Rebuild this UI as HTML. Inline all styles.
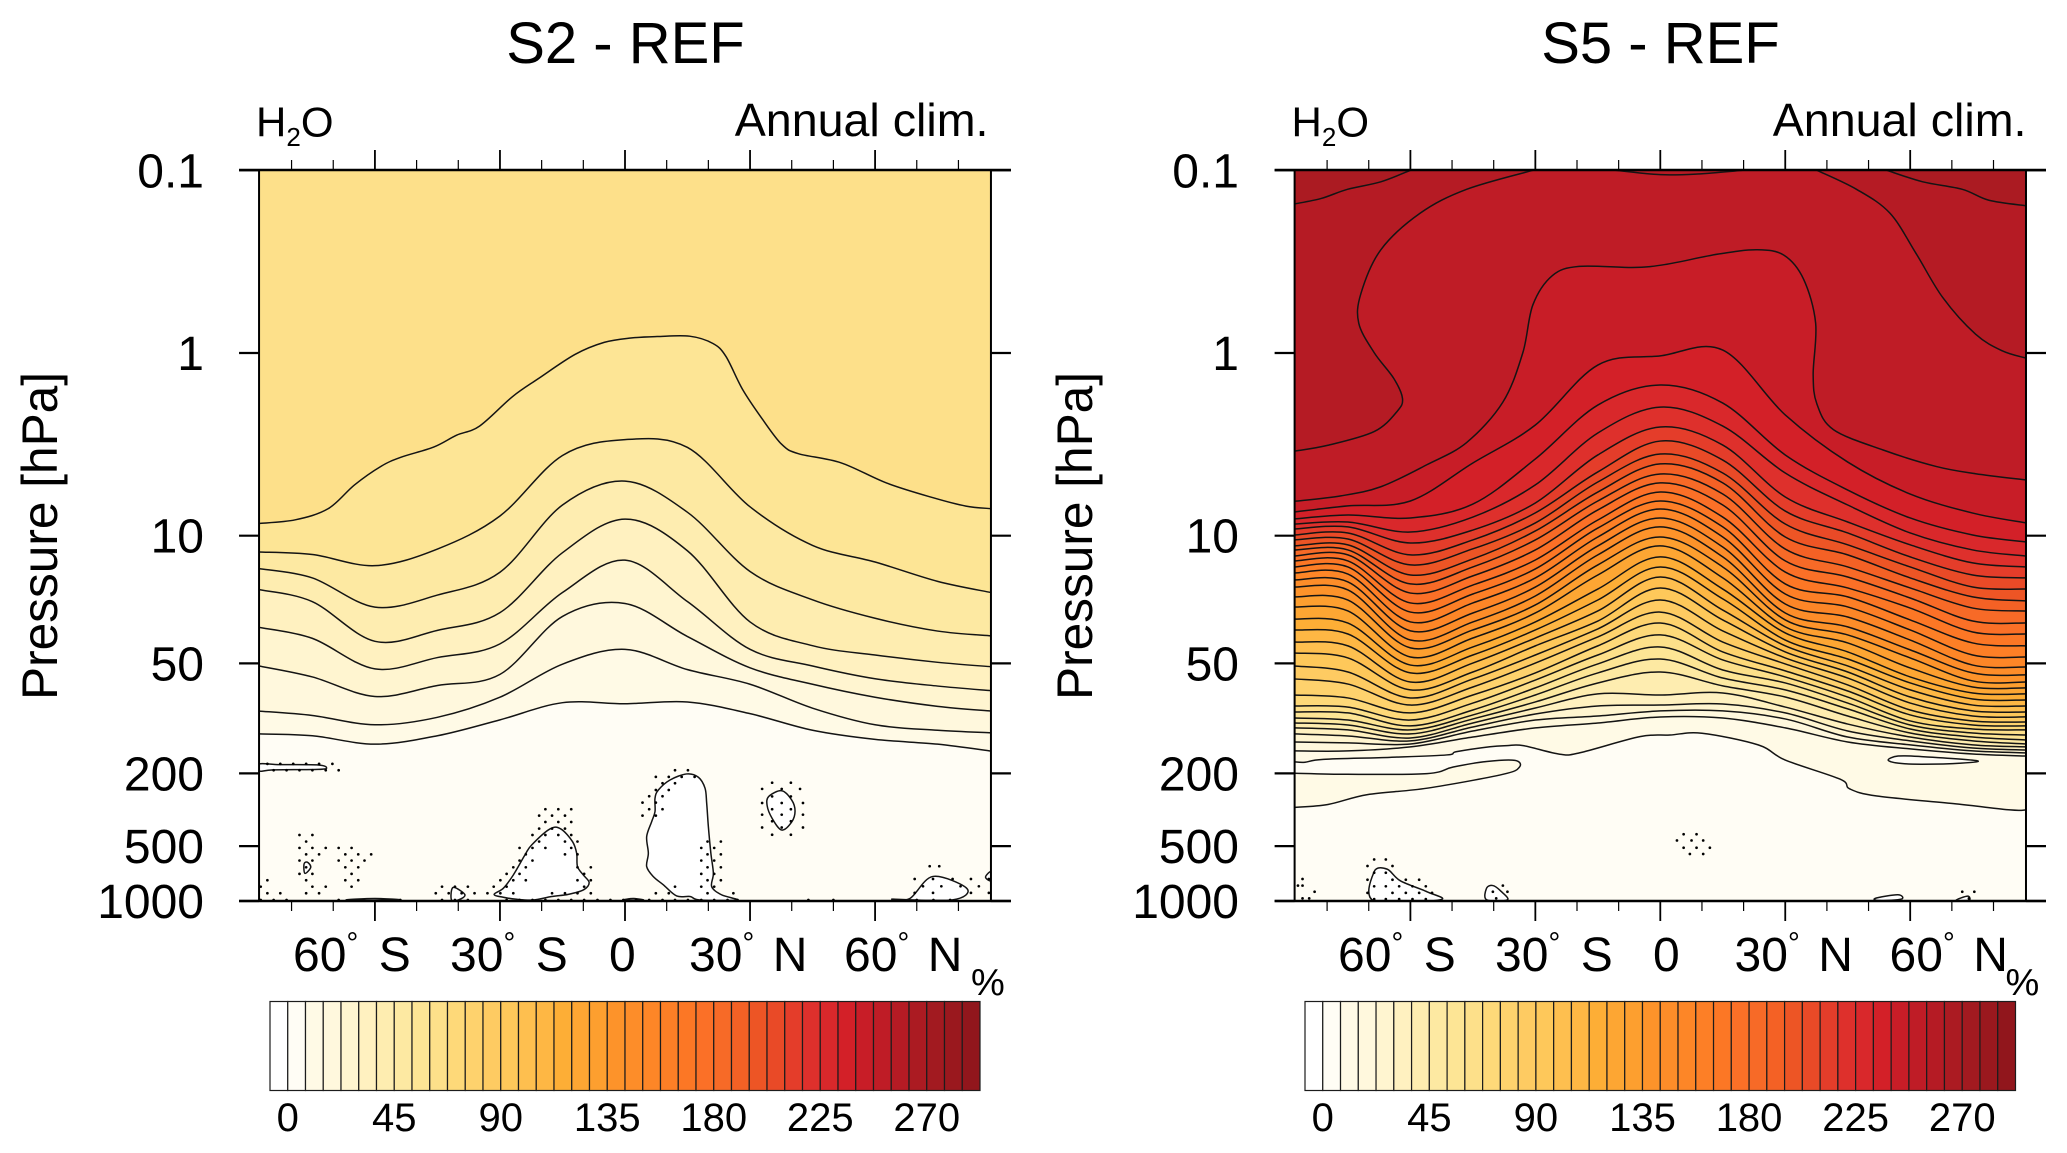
<!DOCTYPE html>
<html lang="en">
<head>
<meta charset="utf-8">
<title>S2 - REF and S5 - REF H2O annual climatology</title>
<style>
html,body{margin:0;padding:0;background:#fff;}
svg{display:block;}
text{font-family:"Liberation Sans",sans-serif;fill:#000;}
</style>
</head>
<body>
<svg id="figure" xmlns="http://www.w3.org/2000/svg" width="2067" height="1153" viewBox="0 0 2067 1153">
  <defs>
    <clipPath id="clip-s2"><rect x="259" y="170" width="732" height="731"/></clipPath>
    <clipPath id="clip-s5"><rect x="1294.3" y="170" width="731.5" height="731"/></clipPath>
  </defs>
  <rect width="2067" height="1153" fill="#fff"/>
  <g id="panel-s2"></g>
  <g id="panel-s5"></g>

  <text x="625.5" y="63" font-size="58" text-anchor="middle">S2 - REF</text>
  <text x="1660.5" y="63" font-size="58" text-anchor="middle">S5 - REF</text>

  <text x="256" y="136.5" font-size="42">H<tspan font-size="26" dy="9.5">2</tspan><tspan dy="-9.5">O</tspan></text>
  <text x="1291.5" y="136.5" font-size="42">H<tspan font-size="26" dy="9.5">2</tspan><tspan dy="-9.5">O</tspan></text>
  <text x="988.5" y="136" font-size="46.6" text-anchor="end">Annual clim.</text>
  <text x="2026.5" y="136" font-size="46.6" text-anchor="end">Annual clim.</text>

  <text transform="translate(57,536) rotate(-90)" font-size="49.6" text-anchor="middle">Pressure [hPa]</text>
  <text transform="translate(1092,536) rotate(-90)" font-size="49.6" text-anchor="middle">Pressure [hPa]</text>

  <g font-size="48">
    <text x="293" y="971">60<tspan font-size="30" dy="-18">°</tspan><tspan dy="18" dx="7"> S</tspan></text>
    <text x="450" y="971">30<tspan font-size="30" dy="-18">°</tspan><tspan dy="18" dx="7"> S</tspan></text>
    <text x="609" y="971">0</text>
    <text x="689" y="971">30<tspan font-size="30" dy="-18">°</tspan><tspan dy="18" dx="5"> N</tspan></text>
    <text x="844" y="971">60<tspan font-size="30" dy="-18">°</tspan><tspan dy="18" dx="5"> N</tspan></text>
  </g>
  <g font-size="48">
    <text x="1338" y="971">60<tspan font-size="30" dy="-18">°</tspan><tspan dy="18" dx="7"> S</tspan></text>
    <text x="1495" y="971">30<tspan font-size="30" dy="-18">°</tspan><tspan dy="18" dx="7"> S</tspan></text>
    <text x="1653" y="971">0</text>
    <text x="1734.5" y="971">30<tspan font-size="30" dy="-18">°</tspan><tspan dy="18" dx="5"> N</tspan></text>
    <text x="1889.5" y="971">60<tspan font-size="30" dy="-18">°</tspan><tspan dy="18" dx="5"> N</tspan></text>
  </g>
  <text x="971" y="995" font-size="38">%</text>
  <text x="2005.5" y="995" font-size="38">%</text>
</svg>

<script>
// ---------- shared axis values ----------
const pressureTicks = [0.1, 1, 10, 50, 200, 500, 1000];
const latMajorTicks = [-60, -30, 0, 30, 60];
const latMinorTicks = [-80, -70, -50, -40, -20, -10, 10, 20, 40, 50, 70, 80];
const colorbarLabels = [0, 45, 90, 135, 180, 225, 270];
const colorbarStep = 7.5;
const boxColors = ['#ffffff','#fffdf5','#fffae6','#fff8dd','#fff5d0','#fff1c0','#feedb0','#fde9a2','#fde595','#fde08a',
  '#fed979','#fed26d','#fecb62','#fec85a','#febf4f','#feb744','#fdae36','#fda633','#fd9f2f','#fd932a',
  '#fd8d29','#fd8627','#fd7f26','#fc7725','#fb7027','#f76a27','#f46125','#ed5525','#e94a27','#e43d2a',
  '#de302c','#d9282b','#d32028','#c81d27','#bf1c26','#b51b24','#ab1b22','#a21a20','#9a181e','#91161c'];
// shared latitude grid of the contour rows (degrees)
const gridLat = [-87.8,-75,-60,-45,-30,-15,0,15,30,45,60,75,87.8];

// ---------- S2 contours: log10(hPa) per gridLat, levels 1..7 ----------
const s2Grid = [
 [2.085,2.095,2.141,2.095,2.008,1.914,1.920,1.910,1.974,2.065,2.115,2.141,2.179],
 [1.960,1.984,2.035,1.994,1.884,1.703,1.622,1.733,1.813,1.944,2.035,2.065,2.079],
 [1.713,1.773,1.880,1.820,1.759,1.442,1.371,1.552,1.723,1.813,1.884,1.934,1.960],
 [1.502,1.562,1.729,1.667,1.592,1.311,1.134,1.361,1.622,1.713,1.783,1.823,1.848],
 [1.295,1.361,1.578,1.518,1.421,1.093,0.909,1.083,1.472,1.602,1.653,1.693,1.717],
 [1.180,1.231,1.391,1.325,1.200,0.832,0.701,0.872,1.196,1.351,1.452,1.522,1.548],
 [1.089,1.103,1.164,1.073,0.892,0.561,0.474,0.517,0.842,1.053,1.144,1.250,1.311]
];
// S2 level 8 (top contour)
const s2TopLat = [-87.8,-79.1,-71.2,-64.9,-58.6,-53.8,-45.9,-40.4,-34.9,-27,-20.7,-12,-5,1.4,7.7,15.5,21.1,24.2,28.2,32.9,37.6,41.6,51.8,62.8,73.9,81.8,87.8];
const s2TopLogP = [0.933,0.913,0.852,0.722,0.621,0.571,0.515,0.450,0.400,0.239,0.139,0.008,-0.058,-0.082,-0.090,-0.092,-0.052,0.018,0.199,0.360,0.500,0.551,0.601,0.712,0.792,0.838,0.852];

// S2 closed low-value regions
const s2Hump1Lat = [-31.4,-29.2,-26.8,-24,-22.4,-18,-15.4,-12.6,-11.6,-11.4,-10,-8.6,-10,-13.6,-17.6,-22,-26,-29.2];
const s2Hump1LogP = [2.963,2.930,2.857,2.747,2.693,2.605,2.605,2.674,2.738,2.811,2.857,2.899,2.939,2.963,2.975,2.994,2.990,2.979];
const s2Hump2Lat = [7.2,8,10.8,14.8,17.6,19.2,19.6,20,20.6,21.2,20.8,23.2,26.8,18,15.6,12.4,9.2,6.8,5.2,5.6,5.2,6.4,7.2];
const s2Hump2LogP = [2.437,2.392,2.337,2.304,2.322,2.382,2.465,2.592,2.738,2.848,2.921,2.966,2.994,2.994,2.975,2.972,2.911,2.866,2.811,2.738,2.647,2.565,2.510];
const s2BlobLat = [34.5,37.6,40,40.8,40,37.6,35.3,34.1];
const s2BlobLogP = [2.427,2.396,2.447,2.507,2.567,2.611,2.547,2.477];
const s2SliverLat = [-87.8,-82.8,-73.6,-71.6,-73.6,-84.4,-87.8];
const s2SliverLogP = [2.249,2.253,2.255,2.271,2.279,2.282,2.288];
const s2DiamondLat = [-76.2,-75.4,-76.8,-77];
const s2DiamondLogP = [2.787,2.815,2.848,2.797];
const s2PatchALat = [-41.6,-41.6,-40.8,-38.4,-40];
const s2PatchALogP = [2.994,2.939,2.926,2.966,2.994];
const s2PatchBLat = [64.4,68.4,73.9,82.1,78.6];
const s2PatchBLogP = [2.989,2.985,2.865,2.933,2.993];
const s2PatchCLat = [86.5,87.8,87.8];
const s2PatchCLogP = [2.869,2.838,2.889];
const s2PatchDLat = [-66.8,-60,-54];
const s2PatchDLogP = [2.994,2.986,2.994];
const s2PatchELat = [-0.4,2,4.4];
const s2PatchELogP = [2.994,2.986,2.994];

// S2 significance stipple
const s2DotLogP = [2.249,2.284,2.320,2.352,2.355,2.386,2.392,2.426,2.427,2.461,2.463,2.497,2.527,2.532,2.563,2.567,2.597,2.603,2.637,2.638,2.674,2.709,2.744,2.778,2.809,2.815,2.851,2.879,2.886,2.919,2.921,2.955,2.957,2.994];
const s2DotLat = [
 [-85.8,-82.7,-79.6,-76.5,-73.4,-70.2],
 [-84.3,-81.2,-78.1,-75,-71.8,-68.7,12,15.1],
 [7.4,10.5,13.6,16.7],
 [35.3,39.8],
 [9,12],
 [32.9,37.6,42],
 [7.4,10.5],
 [5.8,9],
 [35.3,39.8],
 [4.2,7.4],
 [32.9,37.6,42.7],
 [-19.1,-16,-12.9,5.8,9,35.3,39.8],
 [32.9,37.6,42.7],
 [-20.6,-17.5,-14.4,4.2,7.4],
 [35.3,39.8],
 [-19.1,-16,-12.9],
 [32.9,37.6,42.7],
 [-20.6,-17.5,-14.4],
 [35.3,39.8],
 [-78.1,-75,-22.2,-19.1,-16,-12.9],
 [-76.5,-20.6,-14.4,-11.4,19.8,23],
 [-78.1,-75,-71.8,-68.7,-65.6,-25.3,-22.2,-19.1,-12.9,18.3,21.4],
 [-76.5,-73.4,-67.1,-64,-60.9,-23.8,-14.4,-11.4,19.8,23],
 [-78.1,-75,-68.7,-65.6,-62.5,-25.3,-22.2,18.3,21.4],
 [73.1,75.4],
 [-76.5,-67.1,-64,-26.8,-23.8,-11.4,-8.2,19.8,23],
 [-78.1,-75,-65.6,-28.4,-25.3,-9.8,18.3,21.4],
 [69.5,73.9,78.6,83,87.3],
 [-85.8,-76.5,-67.1,-64,-29.9,-26.8,-23.8,-11.4,-8.2,19.8,23],
 [71.5,75.9,80.5,84.9],
 [-87.4,-75,-71.8,-65.6,-43.9,-40.8,-37.7,-31.5,-28.4,-9.8,12,18.3,21.4],
 [69.5,73.9,83,87.3],
 [-85.8,-82.7,-76.5,-73.4,-45.4,-42.3,-39.2,-36.1,-33,-29.9,-26.8,-17.5,-14.4,-11.4,-8.2,7.4,10.5,19.8,26],
 [-87.4,-84.3,-81.2,-68.7,-53.9,-43.9,-40.8,-37.7,-28.4,-25.3,-22.2,-19.1,-16,-12.9,-9.8,-6.6,-3.5,-0.4,2.7,5.8,9,12,15.1,18.3,21.4,24.6,27,44,50,70,74,78]
];

// ---------- S5 contours: log10(hPa) per gridLat, levels 2..32 ----------
const s5Grid = [
 [2.178,2.178,2.156,2.102,2.052,2.025,1.992,1.998,2.052,2.129,2.167,2.195,2.206],
 [2.129,2.134,2.140,2.069,2.009,1.987,1.959,1.959,2.003,2.102,2.145,2.178,2.189],
 [2.085,2.096,2.123,2.047,1.976,1.932,1.927,1.921,1.970,2.069,2.123,2.162,2.173],
 [2.052,2.063,2.107,2.025,1.943,1.866,1.872,1.861,1.938,2.031,2.102,2.145,2.156],
 [2.025,2.036,2.085,2.003,1.910,1.806,1.746,1.822,1.883,1.987,2.080,2.123,2.140],
 [1.998,2.009,2.063,1.981,1.872,1.751,1.675,1.779,1.844,1.948,2.058,2.102,2.118],
 [1.965,1.970,2.041,1.954,1.833,1.702,1.609,1.735,1.806,1.916,2.036,2.080,2.091],
 [1.932,1.938,2.009,1.916,1.790,1.653,1.543,1.680,1.773,1.883,2.014,2.058,2.063],
 [1.872,1.888,1.970,1.872,1.751,1.603,1.478,1.636,1.740,1.850,1.981,2.036,2.041],
 [1.784,1.812,1.927,1.828,1.697,1.554,1.418,1.582,1.702,1.817,1.954,2.014,2.020],
 [1.713,1.746,1.888,1.784,1.653,1.510,1.352,1.521,1.669,1.779,1.916,1.987,1.992],
 [1.642,1.669,1.844,1.746,1.603,1.467,1.286,1.461,1.636,1.746,1.883,1.959,1.965],
 [1.582,1.603,1.801,1.697,1.560,1.412,1.226,1.407,1.603,1.713,1.844,1.927,1.932],
 [1.516,1.538,1.751,1.653,1.516,1.352,1.171,1.346,1.571,1.675,1.806,1.894,1.899],
 [1.456,1.478,1.708,1.609,1.472,1.292,1.116,1.292,1.532,1.636,1.773,1.861,1.866],
 [1.390,1.412,1.664,1.560,1.423,1.215,1.056,1.231,1.499,1.587,1.724,1.828,1.833],
 [1.335,1.352,1.614,1.516,1.379,1.160,1.007,1.171,1.461,1.543,1.669,1.795,1.801],
 [1.281,1.297,1.571,1.472,1.330,1.105,0.952,1.116,1.423,1.499,1.625,1.751,1.762],
 [1.242,1.253,1.521,1.423,1.281,1.056,0.903,1.062,1.374,1.445,1.571,1.708,1.719],
 [1.204,1.210,1.472,1.368,1.231,1.007,0.854,1.007,1.319,1.390,1.516,1.653,1.664],
 [1.171,1.171,1.418,1.319,1.182,0.958,0.810,0.952,1.264,1.335,1.461,1.587,1.603],
 [1.138,1.138,1.368,1.270,1.133,0.914,0.761,0.898,1.199,1.286,1.396,1.527,1.538],
 [1.111,1.105,1.314,1.220,1.078,0.859,0.711,0.832,1.138,1.226,1.341,1.467,1.478],
 [1.078,1.078,1.264,1.171,1.023,0.810,0.662,0.772,1.073,1.171,1.286,1.396,1.412],
 [1.056,1.050,1.215,1.127,0.974,0.761,0.607,0.711,1.007,1.105,1.231,1.335,1.357],
 [1.023,1.018,1.160,1.072,0.930,0.706,0.553,0.657,0.936,1.050,1.171,1.281,1.292],
 [0.996,0.985,1.105,1.023,0.875,0.651,0.482,0.586,0.865,0.985,1.116,1.215,1.231],
 [0.963,0.952,1.040,0.969,0.821,0.558,0.405,0.504,0.788,0.925,1.050,1.149,1.171],
 [0.936,0.925,0.980,0.898,0.722,0.438,0.296,0.400,0.657,0.832,0.985,1.078,1.111],
 [0.908,0.887,0.903,0.827,0.580,0.285,0.175,0.274,0.558,0.750,0.903,0.996,1.034],
 [0.870,0.837,0.810,0.602,0.394,0.066,0.016,-0.016,0.339,0.597,0.772,0.876,0.930]
];
// S5 level 1
const s5C1Lat = [-87.8,-85.3,-80.9,-64.9,-51.3,-48.9,-40.9,-36.8,-32.9,-24.1,-19.3,-4.9,2.3,10,23.5,30,43.2,45.5,52,71,84,87.8];
const s5C1LogP = [2.238,2.240,2.224,2.213,2.200,2.182,2.155,2.149,2.149,2.196,2.188,2.100,2.091,2.081,2.145,2.228,2.333,2.386,2.425,2.468,2.501,2.501];
// S5 tongue of level 1 (closes on the left edge)
const s5TongueLat = [-87.8,-79.8,-70.3,-56,-37.8,-33.8,-34.9,-41.7,-49.7,-56,-75.1,-87.8];
const s5TongueLogP = [2.487,2.471,2.417,2.382,2.306,2.266,2.230,2.236,2.266,2.302,2.306,2.300];
// S5 level 33
const s5C33Lat = [-87.8,-76.7,-67.1,-56,-46.5,-37.8,-33,-30.6,-25.9,-19.5,-6.8,1.1,13.8,23.3,29.7,34.4,37.3,36.7,37.6,41.6,53.5,66.2,75.7,87.8];
const s5C33LogP = [0.812,0.782,0.732,0.611,0.490,0.269,-0.002,-0.263,-0.424,-0.474,-0.468,-0.484,-0.541,-0.565,-0.535,-0.404,-0.163,0.119,0.279,0.420,0.531,0.621,0.661,0.695];
// S5 level 34 (three pieces)
const s5C34LeftLat = [-87.8,-79.8,-68.7,-63.2,-61.9,-64,-68.7,-72.4,-71.9,-67.1,-57.6,-46.5,-30.6];
const s5C34LeftLogP = [0.537,0.505,0.430,0.320,0.249,0.139,-0.002,-0.163,-0.324,-0.565,-0.766,-0.896,-1];
const s5C34RightLat = [37.6,47.1,55.1,61.4,67.8,75.7,82.1,87.8];
const s5C34RightLogP = [-1,-0.896,-0.766,-0.545,-0.304,-0.103,-0.012,0.028];
const s5C34CapLat = [-10.8,0,9,19.8];
const s5C34CapLogP = [-1,-0.976,-0.98,-1];
// S5 level 35 (two corner pieces)
const s5C35LeftLat = [-87.8,-81.4,-75.1,-67.1,-60];
const s5C35LeftLogP = [-0.816,-0.846,-0.896,-0.937,-1];
const s5C35RightLat = [54.4,63,72.5,78.9,87.8];
const s5C35RightLogP = [-1,-0.937,-0.896,-0.836,-0.806];
// S5 closed regions
const s5LensLat = [54.7,57.1,62.7,75.9,72.3,62.7,57.1];
const s5LensLogP = [2.228,2.206,2.209,2.231,2.245,2.251,2.245];
const s5PatchALat = [-68.7,-68.7,-65.6,-62.4,-56,-52.9];
const s5PatchALogP = [3.0,2.839,2.825,2.889,2.949,2.993];
const s5PatchBLat = [-41.7,-41.7,-40.2,-38.3,-36.7];
const s5PatchBLogP = [2.993,2.929,2.915,2.945,2.993];
const s5PatchCLat = [51.6,57,57.9,52.7];
const s5PatchCLogP = [2.985,2.965,2.989,2.997];
const s5PatchDLat = [71,73.8,74.1];
const s5PatchDLogP = [2.995,2.973,2.995];
// S5 significance stipple
const s5DotLogP = [2.634,2.668,2.708,2.742,2.772,2.808,2.845,2.879,2.883,2.915,2.919,2.949,2.955,2.985,2.989];
const s5DotLat = [
 [5.6,8.7],
 [4,7.5,10.3],
 [5.6,8.7,11.9],
 [7.1,10.3],
 [-68.7,-65.9],
 [-70.3,-64.3],
 [-68.7,-65.9],
 [-85.9],
 [-70.3,-64.3,-61.1,-57.9],
 [-87,-85.9,-37.8],
 [-68.7,-65.9,-62.7,-59.5,-56.3],
 [-83,-40.2,-36.7,72.5,75.4],
 [-70.3,-64.3,-61.1,-57.9,-54.8],
 [-85.9,-84.3,-39.4,74.1],
 [-68.7,-65.9,-62.7,-59.5,-56.3]
];

// ---------- drawing ----------
const SVGNS = 'http://www.w3.org/2000/svg';
const yTop = 170, yBottom = 901;
function yOfLogP(v){ return 353 + v * 182.7; }
function yOfPressure(p){ return yOfLogP(Math.log10(p)); }

function make(tag, attrs, parent){
  const e = document.createElementNS(SVGNS, tag);
  for (const k in attrs) e.setAttribute(k, attrs[k]);
  parent.appendChild(e);
  return e;
}
function spline(pts, closed){
  const n = pts.length;
  if (n < 3) return 'M' + pts.map(p => p[0].toFixed(2) + ' ' + p[1].toFixed(2)).join('L');
  let d = 'M' + pts[0][0].toFixed(2) + ' ' + pts[0][1].toFixed(2);
  const segs = closed ? n : n - 1;
  for (let i = 0; i < segs; i++){
    const p0 = closed ? pts[(i - 1 + n) % n] : pts[Math.max(i - 1, 0)];
    const p1 = pts[i];
    const p2 = closed ? pts[(i + 1) % n] : pts[i + 1];
    const p3 = closed ? pts[(i + 2) % n] : pts[Math.min(i + 2, n - 1)];
    const c1x = p1[0] + (p2[0] - p0[0]) / 6, c1y = p1[1] + (p2[1] - p0[1]) / 6;
    const c2x = p2[0] - (p3[0] - p1[0]) / 6, c2y = p2[1] - (p3[1] - p1[1]) / 6;
    d += 'C' + c1x.toFixed(2) + ' ' + c1y.toFixed(2) + ' ' + c2x.toFixed(2) + ' ' + c2y.toFixed(2) + ' ' + p2[0].toFixed(2) + ' ' + p2[1].toFixed(2);
  }
  return closed ? d + 'Z' : d;
}

function drawPanel(p){
  const root = document.getElementById(p.id);
  const xOfLat = lat => p.eqX + lat * p.pxPerDeg;
  const left = xOfLat(-87.8), right = xOfLat(87.8);
  const toPts = (lats, logs) => lats.map((la, i) => [xOfLat(la), yOfLogP(logs[i])]);

  const body = make('g', {'clip-path': 'url(#clip-' + p.key + ')'}, root);
  
  
  const bg = make('rect', {x: left, y: yTop, width: right - left, height: yBottom - yTop, fill: boxColors[1]}, body);
  
  

  // filled bands, lowest first; each polygon closes towards the plot top
  p.bands.forEach(b => {
    const pts = toPts(b.lat, b.logp);
    let d = spline(pts, false);
    if (b.close === 'across') d += 'L' + right + ' ' + (yTop - 5) + 'L' + left + ' ' + (yTop - 5) + 'Z';
    else if (b.close === 'topleft') d += 'L' + left + ' ' + (yTop - 5) + 'Z';
    else if (b.close === 'topright') d += 'L' + right + ' ' + (yTop - 5) + 'Z';
    else d += 'Z';
    const f = make('path', {d: d, fill: boxColors[b.box], stroke: 'none'}, body);
    
    
  });
  // contour lines
  p.bands.forEach(b => {
    const l = make('path', {d: spline(toPts(b.lat, b.logp), false), fill: 'none', stroke: '#141414', 'stroke-width': 1.5}, body);
    
    
  });
  // closed low regions
  p.holes.forEach(h => {
    const r = make('path', {d: spline(toPts(h.lat, h.logp), true), fill: boxColors[h.box], stroke: '#141414', 'stroke-width': 1.5}, body);
    
    
  });
  // stipple
  p.dotLogP.forEach((v, i) => {
    p.dotLat[i].forEach(la => {
      const c = make('circle', {cx: xOfLat(la), cy: yOfLogP(v), r: 1.35, fill: '#000'}, body);
      
      
    });
  });

  // frame and ticks
  const axis = make('g', {stroke: '#000', fill: 'none'}, root);
  
  
  make('line', {x1: left, x2: left, y1: yTop, y2: yBottom, 'stroke-width': 2}, axis);
  make('line', {x1: right, x2: right, y1: yTop, y2: yBottom, 'stroke-width': 2}, axis);
  latMajorTicks.forEach(la => {
    make('line', {x1: xOfLat(la), x2: xOfLat(la), y1: yTop, y2: yTop - 20, 'stroke-width': 1.8}, axis);
    make('line', {x1: xOfLat(la), x2: xOfLat(la), y1: yBottom, y2: yBottom + 20, 'stroke-width': 1.8}, axis);
  });
  latMinorTicks.forEach(la => {
    make('line', {x1: xOfLat(la), x2: xOfLat(la), y1: yTop, y2: yTop - 10, 'stroke-width': 1.2}, axis);
    make('line', {x1: xOfLat(la), x2: xOfLat(la), y1: yBottom, y2: yBottom + 10, 'stroke-width': 1.2}, axis);
  });
  pressureTicks.forEach(pr => {
    const y = Math.min(yOfPressure(pr), yBottom);
    make('line', {x1: left - 20, x2: left, y1: y, y2: y, 'stroke-width': 2.2}, axis);
    make('line', {x1: right, x2: right + 20, y1: y, y2: y, 'stroke-width': 2.2}, axis);
    const t = make('text', {x: p.tickLabelX, y: y + 17, 'font-size': 48, 'text-anchor': 'end', stroke: 'none'}, root);
    t.textContent = String(pr);
    
    
  });
  make('line', {x1: left - 20, x2: right + 20, y1: yTop, y2: yTop, 'stroke-width': 2.4}, axis);
  make('line', {x1: left - 20, x2: right + 20, y1: yBottom, y2: yBottom, 'stroke-width': 2.4}, axis);

  // colour bar
  const bar = make('g', {}, root);
  
  
  const bx0 = p.barX, bw = p.barW / boxColors.length, by = 1001.5, bh = 89;
  const xOfValue = v => bx0 + (v / colorbarStep + 1) * bw;
  boxColors.forEach((col, i) => {
    const r = make('rect', {x: bx0 + i * bw, y: by, width: bw, height: bh, fill: col, stroke: '#1c1c1c', 'stroke-width': 1.2}, bar);
    
    
  });
  colorbarLabels.forEach(v => {
    const t = make('text', {x: xOfValue(v), y: 1131, 'font-size': 40, 'text-anchor': 'middle'}, bar);
    t.textContent = String(v);
    
    
  });
}

const s2Bands = s2Grid.map((row, i) => ({lat: gridLat, logp: row, box: i + 2, close: 'across'}));
s2Bands.push({lat: s2TopLat, logp: s2TopLogP, box: 9, close: 'across'});

const s5Bands = [{lat: s5C1Lat, logp: s5C1LogP, box: 2, close: 'across'}]
  .concat(s5Grid.map((row, i) => ({lat: gridLat, logp: row, box: i + 3, close: 'across'})));
s5Bands.push({lat: s5C33Lat, logp: s5C33LogP, box: 34, close: 'across'});
s5Bands.push({lat: s5C34LeftLat, logp: s5C34LeftLogP, box: 35, close: 'topleft'});
s5Bands.push({lat: s5C34RightLat, logp: s5C34RightLogP, box: 35, close: 'topright'});
s5Bands.push({lat: s5C34CapLat, logp: s5C34CapLogP, box: 35, close: 'self'});
s5Bands.push({lat: s5C35LeftLat, logp: s5C35LeftLogP, box: 36, close: 'topleft'});
s5Bands.push({lat: s5C35RightLat, logp: s5C35RightLogP, box: 36, close: 'topright'});
s5Bands.push({lat: s5TongueLat, logp: s5TongueLogP, box: 2, close: 'self'});

drawPanel({
  id: 'panel-s2', key: 's2', eqX: 625, pxPerDeg: 4.168, tickLabelX: 204, barX: 270, barW: 710,
  bands: s2Bands,
  holes: [
    {lat: s2Hump1Lat, logp: s2Hump1LogP, box: 0},
    {lat: s2Hump2Lat, logp: s2Hump2LogP, box: 0},
    {lat: s2BlobLat, logp: s2BlobLogP, box: 0},
    {lat: s2SliverLat, logp: s2SliverLogP, box: 0},
    {lat: s2DiamondLat, logp: s2DiamondLogP, box: 0},
    {lat: s2PatchALat, logp: s2PatchALogP, box: 0},
    {lat: s2PatchBLat, logp: s2PatchBLogP, box: 0},
    {lat: s2PatchCLat, logp: s2PatchCLogP, box: 0},
    {lat: s2PatchDLat, logp: s2PatchDLogP, box: 0},
    {lat: s2PatchELat, logp: s2PatchELogP, box: 0}
  ],
  dotLogP: s2DotLogP, dotLat: s2DotLat
});
drawPanel({
  id: 'panel-s5', key: 's5', eqX: 1660.3, pxPerDeg: 4.165, tickLabelX: 1239, barX: 1305, barW: 710.5,
  bands: s5Bands,
  holes: [
    {lat: s5LensLat, logp: s5LensLogP, box: 1},
    {lat: s5PatchALat, logp: s5PatchALogP, box: 0},
    {lat: s5PatchBLat, logp: s5PatchBLogP, box: 0},
    {lat: s5PatchCLat, logp: s5PatchCLogP, box: 0},
    {lat: s5PatchDLat, logp: s5PatchDLogP, box: 0}
  ],
  dotLogP: s5DotLogP, dotLat: s5DotLat
});
</script>
</body>
</html>
